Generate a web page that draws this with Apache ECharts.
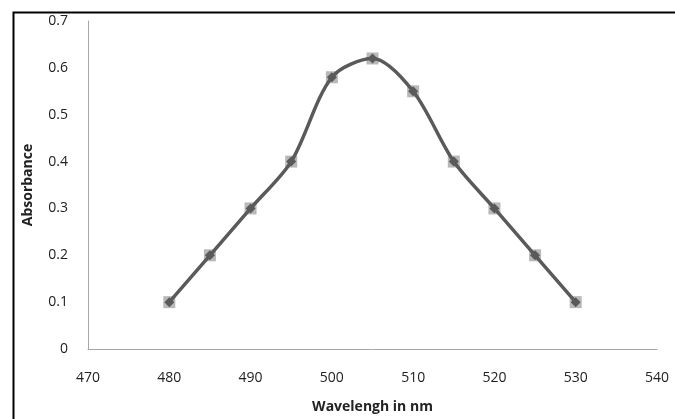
<!DOCTYPE html>
<html><head><meta charset="utf-8">
<script src="https://cdn.jsdelivr.net/npm/echarts@6/dist/echarts.min.js"></script>
<style>html,body{margin:0;padding:0;background:#fff}#c{width:675px;height:419px}</style>
</head><body><div id="c"></div>
<script>
const wavelengths = [480, 485, 490, 495, 500, 505, 510, 515, 520, 525, 530];
const absorbance = [0.10, 0.20, 0.30, 0.40, 0.58, 0.62, 0.55, 0.40, 0.30, 0.20, 0.10];
const xTitle = 'Wavelengh in nm';
const yTitle = 'Absorbance';

const pts = wavelengths.map((w, i) => [w, absorbance[i]]);
const chart = echarts.init(document.getElementById('c'));
const font = '"Open Sans", "DejaVu Sans", sans-serif';
chart.setOption({
  animation: false,
  graphic: [{
    type: 'rect', left: 11, top: 10,
    shape: { x: 0, y: 0, width: 700, height: 450 },
    style: { fill: 'none', stroke: '#000', lineWidth: 2 }, z: 100
  }],
  grid: { left: 88, right: 18, top: 21, bottom: 69 },
  xAxis: {
    type: 'value', min: 470, max: 540, interval: 10,
    name: xTitle, nameLocation: 'middle', nameGap: 51,
    nameTextStyle: { fontFamily: font, fontWeight: 'bold', fontSize: 14, color: '#222' },
    axisLine: { show: true, lineStyle: { color: '#a6a6a6', width: 1 } },
    axisTick: { show: false },
    splitLine: { show: false },
    axisLabel: { fontFamily: font, fontSize: 14, color: '#222', margin: 22 }
  },
  yAxis: {
    type: 'value', min: 0, max: 0.7, interval: 0.1,
    name: yTitle, nameLocation: 'middle', nameGap: 53,
    nameTextStyle: { fontFamily: font, fontWeight: 'bold', fontSize: 14, color: '#222' },
    axisLine: { show: true, lineStyle: { color: '#a6a6a6', width: 1 } },
    axisTick: { show: false },
    splitLine: { show: false },
    axisLabel: { fontFamily: font, fontSize: 14, color: '#222', margin: 20,
      formatter: v => (Math.round(v * 10) / 10).toString() }
  },
  series: [
    {
      type: 'scatter', data: pts, symbol: 'rect', symbolSize: 12,
      itemStyle: { color: '#a6a6a6' }, z: 1
    },
    {
      type: 'line', data: pts, smooth: 0.3,
      symbol: 'diamond', symbolSize: 10, showSymbol: true,
      lineStyle: { color: '#5a5a5a', width: 3.5 },
      itemStyle: { color: '#5a5a5a', borderWidth: 0 }, z: 2
    }
  ]
});
</script></body></html>
